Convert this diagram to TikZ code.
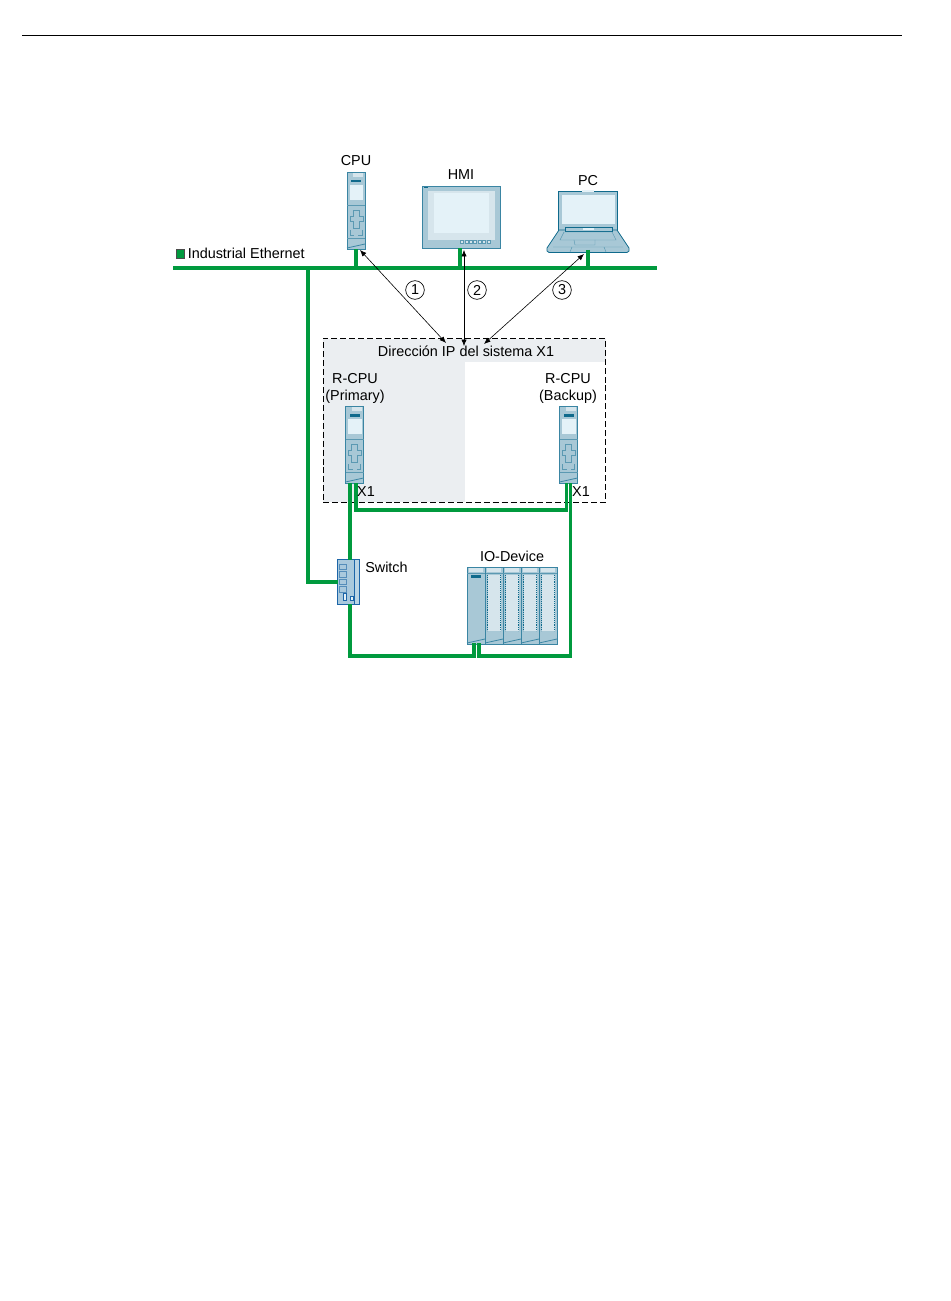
\documentclass[tikz,border=0pt]{standalone}
\usepackage{fontspec}
\setmainfont{Liberation Sans}
\usepackage{tikz}
\usetikzlibrary{calc}
\usetikzlibrary{arrows.meta}
\definecolor{busgreen}{HTML}{009A3E}
\definecolor{devfill}{HTML}{A8C8D6}
\definecolor{devline}{HTML}{3A85A3}
\definecolor{devdark}{HTML}{0F6A8C}
\definecolor{devlight}{HTML}{E4F2F8}
\definecolor{devpale}{HTML}{D6E5EC}
\definecolor{boxgrey}{HTML}{EBEEF1}
\definecolor{swline}{HTML}{1C65A8}
\definecolor{swfill}{HTML}{A9C9DD}
\tikzset{>={Latex[width=1.4mm,length=1.7mm]}}
\tikzset{
  txt/.style = {font=\fontsize{10.8pt}{12.8pt}\selectfont, inner sep=0pt, align=center},
  bus/.style = {draw=busgreen, line width=2.8pt},
  link/.style = {<->, black, line width=.45pt},
  num/.style = {draw, circle, line width=.5pt, minimum size=14pt, inner sep=0pt,
    font=\fontsize{10.8pt}{12pt}\selectfont},
  part/.style = {draw=devline, fill=devfill, line width=.6pt},
  thin part/.style = {draw=devline!70!devfill, line width=.35pt},
  anchorbox/.style = {inner sep=0pt, outer sep=0pt, anchor=north west},
  pics/cpuicon/.style = {code={
    \filldraw[part] (0,0) rectangle (18,77);
    \fill[devpale] (6,1) rectangle (16,5);
    \fill[devdark] (4,8) rectangle (14,10.5);
    \fill[devlight] (2.5,13) rectangle (16,28);
    \draw[thin part] (0,33) -- (18,33) (0,66) -- (18,66);
    \draw[thin part] (6,38) -- (12,38) -- (12,44) -- (16,44) -- (16,49) -- (12,49) -- (12,56)
      -- (6,56) -- (6,49) -- (3,49) -- (3,44) -- (6,44) -- cycle;
    \draw[thin part] (3,58) -- (3,63) -- (7,63) (15,58) -- (15,63) -- (11,63);
    \draw[part] (0,76) -- (18,72);
  }},
  pics/iomodule/.style = {code={
    \filldraw[part] (0,0) rectangle (18,77);
    \fill[devpale] (2,1) rectangle (16,5);
    \fill[devpale] (2.5,8) rectangle (15.5,64);
    \draw[thin part] (0,6) -- (18,6);
    \draw[draw=devdark, line width=.4pt, densely dotted] (2.5,8) -- (2.5,64) (15.5,8) -- (15.5,64);
    \draw[part] (0,76) -- (18,72);
  }}
}
\begin{document}
\begin{tikzpicture}[x=.75pt, y=-.75pt]
  \useasboundingbox (0,0) rectangle (950,1301);

  % head rule
  \coordinate (ruleL) at (22,35.5);
  \coordinate (ruleR) at (902,35.5);
  \draw[line width=.75pt] (ruleL) -- (ruleR);

  % system box
  \fill[boxgrey] (323,339) rectangle (465,502);
  \fill[boxgrey] (465,339) rectangle (606,362);
  \node[draw, dash pattern=on 4.5pt off 2.2pt, line width=.5pt, anchorbox, minimum width=212pt, minimum height=122.5pt] (ipbox) at (323,338.5) {};
  \node[txt] (iptitle) at (466,351.5) {Dirección IP del sistema X1};

  % devices
  \node[anchorbox, minimum width=13.5pt, minimum height=57.75pt] (cpu) at (347,172) {};
  \pic at (347,172) {cpuicon};
  \node[anchorbox, minimum width=13.5pt, minimum height=57.75pt] (rcpuP) at (345.5,406) {};
  \pic at (345.5,406) {cpuicon};
  \node[anchorbox, minimum width=13.5pt, minimum height=57.75pt] (rcpuB) at (559.5,406) {};
  \pic at (559.5,406) {cpuicon};

  % hmi
  \node[part, anchorbox, minimum width=58.5pt, minimum height=46.5pt] (hmi) at (422,186) {};
  \fill[devpale] (428,191) rectangle (495,240);
  \fill[devlight] (434,193) rectangle (489,233);
  \fill[devdark] (424,187.5) rectangle (428,188.5);
  \foreach \i in {0,...,6}
    \draw[thin part, fill=devpale] (460.5+\i*4.4,240.5) rectangle ++(3,3);

  % pc
  \node[anchorbox, minimum width=61.5pt, minimum height=46.5pt] (pc) at (547,191) {};
  \filldraw[part, draw=devdark] (558.5,191.5) rectangle (617.5,232);
  \fill[devlight] (561.5,195) rectangle (615,224);
  \fill[devlight] (582,190.5) rectangle (594,192);
  \filldraw[part, draw=devdark] (559,230) -- (617,230) -- (629,248) -- (629,251) -- (627,252.5)
    -- (549,252.5) -- (547,251) -- (547,248) -- cycle;
  \draw[draw=devdark, fill=devfill, line width=.4pt] (565,227.5) rectangle (612,231.5);
  \fill[devlight] (583,228.5) rectangle (594,230.5);
  \draw[thin part] (564,232) -- (612,232) -- (616,240) -- (560,240) -- cycle;
  \draw[thin part] (574,240) -- (575,245) -- (595,245) -- (595,240);
  \draw[thin part] (553,247) -- (623,247) (572,247) -- (570,252) (604,247) -- (606,252);

  % switch
  \node[draw=swline, fill=swfill, line width=.7pt, anchorbox, minimum width=13pt, minimum height=33.5pt] (switch) at (337.5,559.5) {};
  \draw[draw=swline, fill=swfill!80!white, line width=.7pt] (354,559.5) rectangle (359.5,604.5);
  \foreach \i in {0,...,3}
    \draw[swline!60!devfill, line width=.45pt] (339.5,564+\i*7.5) rectangle ++(7,5.5);
  \draw[swline, fill=devlight, line width=.6pt] (343.5,593.5) rectangle ++(3,7);
  \draw[swline, fill=devlight, line width=.6pt] (350.5,596.5) rectangle ++(3,4);

  % io device
  \node[anchorbox, minimum width=68pt, minimum height=57.75pt] (io) at (467,567) {};
  \foreach \i in {0,...,3}
    \pic at (485+\i*18,567) {iomodule};
  \filldraw[part] (467,567) rectangle (485,644);
  \fill[devpale] (469,568) rectangle (483,572);
  \fill[devdark] (471,575) rectangle (481,577.5);
  \draw[thin part] (467,573) -- (485,573);
  \draw[part] (467,643) -- (485,639);

  % ethernet
  \coordinate (busL) at (173,268);
  \coordinate (busR) at (657,268);
  \coordinate (busT) at (308,268);
  \coordinate (pcport) at (588,250);
  \coordinate (ioL) at (474,643);
  \coordinate (ioR) at (479,643);
  \coordinate (rcpuPa) at (350,483);
  \coordinate (rcpuPb) at (356,483);
  \coordinate (rcpuBa) at (566.5,483);
  \coordinate (rcpuBb) at (570.5,483);
  \draw[bus] (busL) -- (busR);
  \draw[bus] (cpu.south) -- (cpu.south |- busL);
  \draw[bus] ([xshift=-.75pt]hmi.south) -- ([xshift=-.75pt]hmi.south |- busL);
  \draw[bus] (pcport) -- (pcport |- busL);
  \draw[bus] (busT) |- (switch.west);
  \draw[bus] (rcpuPa) -- (rcpuPa |- switch.north);
  \draw[bus] (rcpuPa |- switch.south) -- ++(0,52) -| (ioL);
  \draw[bus] (rcpuPb) -- ++(0,27) -| (rcpuBa);
  \draw[bus] (rcpuBb) -- ++(0,173) -| (ioR);

  % connections
  \coordinate (cpuend) at (360,250);
  \coordinate (hmiend) at (464,250);
  \coordinate (pcend) at (584,254);
  \coordinate (ipA) at (446,343);
  \coordinate (ipB) at (464,346);
  \coordinate (ipC) at (484,344);
  \draw[link] (cpuend) -- (ipA);
  \draw[link] (hmiend) -- (ipB);
  \draw[link] (pcend) -- (ipC);
  \foreach \i/\x in {1/415, 2/477, 3/562}
    \node[num] (n\i) at (\x,290) {\i};

  % labels
  \node[draw=black!70, fill=busgreen, line width=.4pt, minimum size=6.5pt, inner sep=0pt, anchor=north west] (legend) at (175.5,249) {};
  \node[txt, anchor=west] (legendtxt) at (187.5,253) {Industrial Ethernet};
  \node[txt] (cpulbl) at (356,160.5) {CPU};
  \node[txt] (hmilbl) at (461,174.5) {HMI};
  \node[txt] (pclbl) at (588,180.5) {PC};
  \node[txt] (primary) at (355,388) {R-CPU\\(Primary)};
  \node[txt] (backup) at (568,388) {R-CPU\\(Backup)};
  \node[txt] (x1P) at (366,491.5) {X1};
  \node[txt] (x1B) at (581,491.5) {X1};
  \node[txt, anchor=west] (swlbl) at (365,567) {Switch};
  \node[txt] (iolbl) at (512,556.5) {IO-Device};
\end{tikzpicture}
\end{document}
